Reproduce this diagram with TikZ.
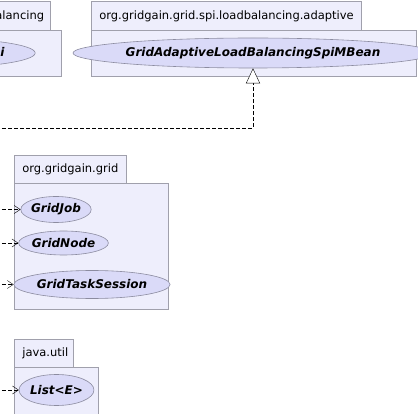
\documentclass[tikz,border=0pt]{standalone}
\usepackage{fontspec}
\setmainfont{DejaVu Sans}
\usetikzlibrary{positioning,arrows.meta,shapes.geometric}
\definecolor{pkgfill}{RGB}{238,238,252}
\definecolor{pkgline}{RGB}{160,160,172}
\definecolor{clsfill}{RGB}{218,218,248}
\definecolor{clsline}{RGB}{140,140,160}

\begin{document}
\begin{tikzpicture}[x=1pt, y=-1pt,
  pkgtab/.style={draw=pkgline, fill=pkgfill, line width=0.7pt, minimum height=28.5pt, inner xsep=8pt, inner ysep=0pt, align=left, font=\fontsize{11.5}{13}\selectfont},
  pkgbody/.style={draw=pkgline, fill=pkgfill, line width=0.7pt, anchor=north west, inner sep=0pt},
  cls/.style={ellipse, draw=clsline, fill=clsfill, line width=0.6pt, inner sep=0pt, font=\fontsize{12}{14}\selectfont\bfseries\itshape},
  dep/.style={dash pattern=on 4pt off 2pt, -{Straight Barb[length=6pt, width=8pt]}},
  impl/.style={dash pattern=on 4pt off 2pt, -{Triangle[open, length=15pt, width=14pt, fill=white]}}]
\useasboundingbox (0,0) rectangle (418,414);
\clip (0,0) rectangle (418,414);
\node[pkgtab, anchor=north east, text width=199pt] (lbtab) at (51,1.5) {org.gridgain.grid.spi.loadbalancing};
\node[pkgbody, minimum width=241pt, minimum height=46pt] (lbbody) at (-180,30) {};
\node[cls, minimum width=190pt, minimum height=30pt] (lbspi) at (-70,53) {GridLoadBalancingSpi};
\node[pkgtab, anchor=north west, text width=254pt] (adtab) at (91,1.5) {org.gridgain.grid.spi.loadbalancing.adaptive};
\node[pkgbody, minimum width=325pt, minimum height=46pt] (adbody) at (91,30) {};
\node[cls, minimum width=310pt, minimum height=30pt] (admbean) at (253,53) {GridAdaptiveLoadBalancingSpiMBean};
\node[pkgtab, anchor=north west, text width=96pt] (gridtab) at (14,155) {org.gridgain.grid};
\node[pkgbody, minimum width=154pt, minimum height=126pt] (gridbody) at (14,183) {};
\node[cls, minimum width=68pt, minimum height=26pt] (gridjob) at (56,209.5) {GridJob};
\node[cls, minimum width=83pt, minimum height=24pt] (gridnode) at (63.5,243) {GridNode};
\node[cls, minimum width=139pt, minimum height=28pt] (gridsession) at (92,284.5) {GridTaskSession};
\node[pkgtab, anchor=north west, text width=43pt] (utiltab) at (14,339) {java.util};
\node[pkgbody, minimum width=84pt, minimum height=80pt] (utilbody) at (14,367) {};
\node[cls, minimum width=69pt, minimum height=31pt] (list) at (56.5,390) {List<E>};
\coordinate (implfrom) at (-10,128);
\coordinate (jobfrom) at (-10,209.5);
\coordinate (nodefrom) at (-10,243);
\coordinate (sessionfrom) at (-10,284.5);
\coordinate (listfrom) at (-10,390);
\draw[impl] (implfrom) -| (admbean.south);
\draw[dep] (jobfrom) -- (gridjob.west);
\draw[dep] (nodefrom) -- (gridnode.west);
\draw[dep] (sessionfrom) -- (gridsession.west);
\draw[dep] (listfrom) -- (list.west);
\end{tikzpicture}
\end{document}
